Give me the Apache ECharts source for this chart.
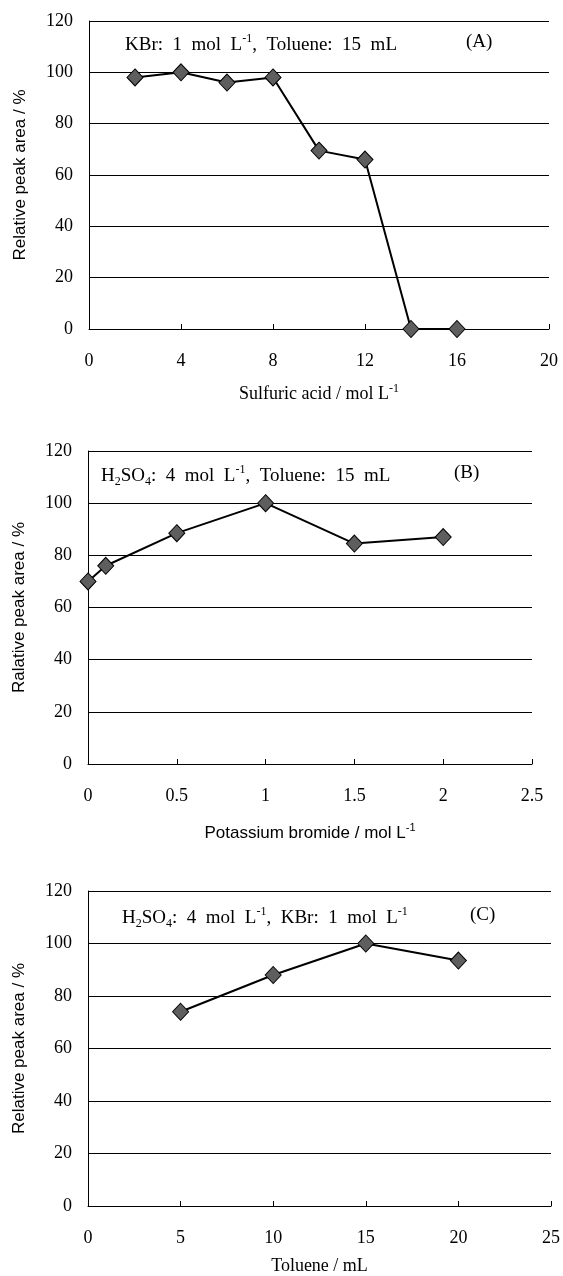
<!DOCTYPE html>
<html>
<head>
<meta charset="utf-8">
<script src="https://cdn.jsdelivr.net/npm/echarts@6/dist/echarts.min.js"></script>
<style>
  html, body {margin: 0; padding: 0; background: #fff;}
  #chart {width: 563px; height: 1276px;}
</style>
</head>
<body>
<div id="chart"></div>
<script>
// DATA
const acid_conc = [2, 4, 6, 8, 10, 12, 14, 16];
const acid_area = [98, 100, 96, 98, 69.5, 66, 0, 0];
const kbr_conc = [0, 0.1, 0.5, 1, 1.5, 2];
const kbr_area = [70, 76, 88.5, 100, 84.5, 87];
const toluene_vol = [5, 10, 15, 20];
const toluene_area = [74, 88, 100, 93.5];

const serif = "'Liberation Serif', 'Times New Roman', serif";
const sans = "'Liberation Sans', Arial, sans-serif";

// rich styles for super/subscripts
const richSerif = {
  t: {fontFamily: serif, fontSize: 19, color: '#000', lineHeight: 24},
  sup: {fontFamily: serif, fontSize: 12, color: '#000', verticalAlign: 'top', lineHeight: 12},
  sub: {fontFamily: serif, fontSize: 12, color: '#000', verticalAlign: 'bottom', lineHeight: 12}
};
const richAxis = {
  t: {fontFamily: serif, fontSize: 18, color: '#000', lineHeight: 22},
  sup: {fontFamily: serif, fontSize: 12, color: '#000', verticalAlign: 'top', lineHeight: 12}
};
const richSans = {
  t: {fontFamily: sans, fontSize: 17, color: '#000', lineHeight: 22},
  sup: {fontFamily: sans, fontSize: 11, color: '#000', verticalAlign: 'top', lineHeight: 11}
};

function pairs(xs, ys){
  return xs.map((x, i) => [x, ys[i]]);
}

function xAxisFor(idx, max, interval, name, rich, gap){
  return {
    gridIndex: idx, type: 'value', min: 0, max, interval,
    name, nameLocation: 'middle', nameGap: gap,
    nameTextStyle: {rich},
    axisLine: {show: true, lineStyle: {color: '#000', width: 1}},
    axisTick: {show: true, inside: true, length: 5, lineStyle: {color: '#000'}},
    axisLabel: {fontFamily: serif, fontSize: 18, color: '#000', margin: 23},
    splitLine: {show: false}
  };
}

function yAxisFor(idx, name){
  return {
    gridIndex: idx, type: 'value', min: 0, max: 120, interval: 20,
    name, nameLocation: 'middle', nameGap: 60,
    nameTextStyle: {fontFamily: sans, fontSize: 17, color: '#000'},
    axisLine: {show: true, lineStyle: {color: '#000', width: 1}},
    axisTick: {show: false},
    axisLabel: {fontFamily: serif, fontSize: 18, color: '#000', margin: 16},
    splitLine: {show: true, lineStyle: {color: '#000', width: 1}}
  };
}

function lineSeries(idx, data){
  return {
    type: 'line', xAxisIndex: idx, yAxisIndex: idx, data,
    symbol: 'diamond', symbolSize: [16, 17],
    lineStyle: {color: '#000', width: 2},
    itemStyle: {color: '#5e5e5e', borderColor: '#000', borderWidth: 1},
    z: 3, animation: false
  };
}

function note(left, top, text){
  return {type: 'text', left, top, z: 10, style: {text, rich: richSerif}};
}

const chart = echarts.init(document.getElementById('chart'), null, {renderer: 'canvas'});
chart.setOption({
  backgroundColor: '#fff',
  animation: false,
  grid: [
    {left: 89, top: 21, width: 460, height: 308},
    {left: 88, top: 451, width: 444, height: 313},
    {left: 88, top: 891, width: 468, height: 320}
  ],
  xAxis: [
    xAxisFor(0, 20, 4, '{t|Sulfuric acid / mol L}{sup|-1}', richAxis, 54),
    xAxisFor(1, 2.5, 0.5, '{t|Potassium bromide / mol L}{sup|-1}', richSans, 58),
    xAxisFor(2, 25, 5, '{t|Toluene / mL}', richAxis, 49)
  ],
  yAxis: [
    yAxisFor(0, 'Relative peak area / %'),
    yAxisFor(1, 'Ralative peak area / %'),
    yAxisFor(2, 'Relative peak area / %')
  ],
  series: [
    lineSeries(0, pairs(acid_conc, acid_area)),
    lineSeries(1, pairs(kbr_conc, kbr_area)),
    lineSeries(2, pairs(toluene_vol, toluene_area))
  ],
  graphic: [
    note(125, 33, '{t|KBr:  1  mol  L}{sup|-1}{t|,  Toluene:  15  mL}'),
    note(466, 33, '{t|(A)}'),
    note(101, 464, '{t|H}{sub|2}{t|SO}{sub|4}{t|:  4  mol  L}{sup|-1}{t|,  Toluene:  15  mL}'),
    note(454, 464, '{t|(B)}'),
    note(122, 906, '{t|H}{sub|2}{t|SO}{sub|4}{t|:  4  mol  L}{sup|-1}{t|,  KBr:  1  mol  L}{sup|-1}'),
    note(470, 906, '{t|(C)}')
  ]
});
</script>
</body>
</html>
